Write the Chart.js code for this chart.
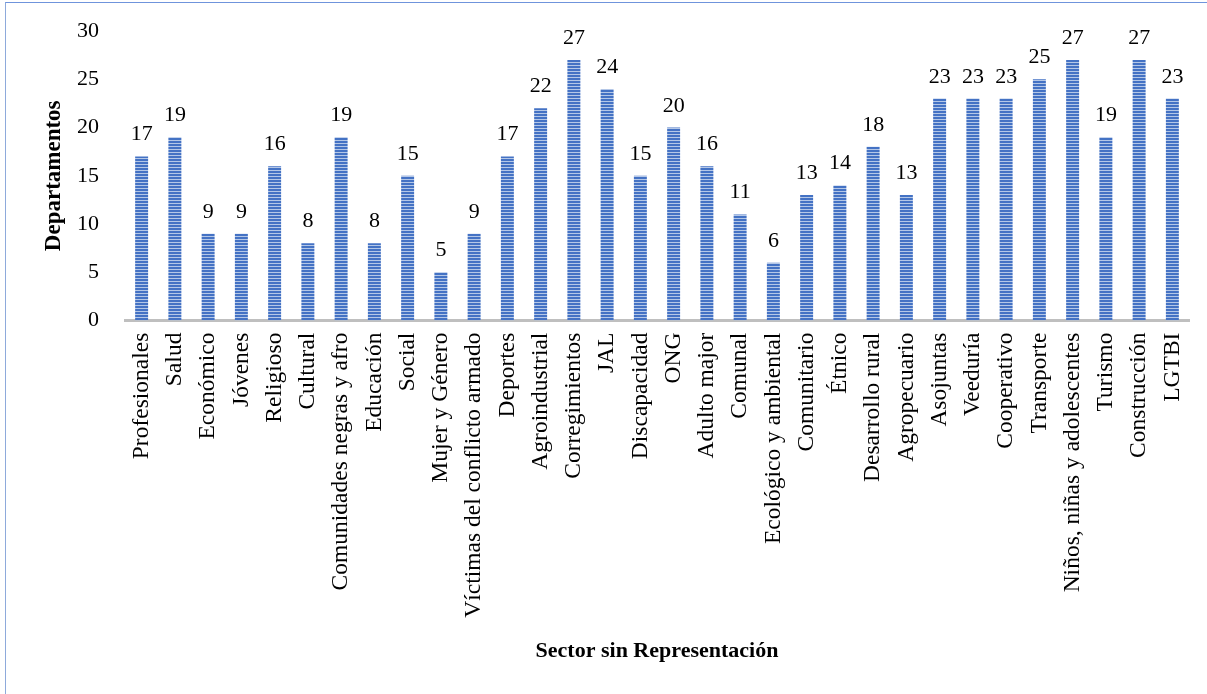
<!DOCTYPE html>
<html>
<head>
<meta charset="utf-8">
<script src="https://cdn.jsdelivr.net/npm/chart.js@4.4.0/dist/chart.umd.min.js"></script>
<style>
  html, body { margin: 0; padding: 0; background: #fff; }
  #wrap { position: relative; width: 1207px; height: 694px; }
  #frame { position: absolute; left: 5px; top: 2px; right: 0; bottom: 0;
           border-left: 1px solid #8eaadb; border-top: 1px solid #6f94dc; pointer-events: none; }
</style>
</head>
<body>
<div id="wrap">
  <canvas id="chart" width="1207" height="694"></canvas>
  <div id="frame"></div>
</div>
<script>
"use strict";

const categories = [
    'Profesionales', 'Salud', 'Económico', 'Jóvenes', 'Religioso', 'Cultural',
    'Comunidades negras y afro', 'Educación', 'Social', 'Mujer y Género',
    'Víctimas del conflicto armado', 'Deportes', 'Agroindustrial', 'Corregimientos',
    'JAL', 'Discapacidad', 'ONG', 'Adulto major', 'Comunal', 'Ecológico y ambiental',
    'Comunitario', 'Étnico', 'Desarrollo rural', 'Agropecuario', 'Asojuntas',
    'Veeduría', 'Cooperativo', 'Transporte', 'Niños, niñas y adolescentes',
    'Turismo', 'Construcción', 'LGTBI'
];
const departamentos = [17, 19, 9, 9, 16, 8, 19, 8, 15, 5, 9, 17, 22, 27, 24, 15, 20, 16, 11, 6,
                       13, 14, 18, 13, 23, 23, 23, 25, 27, 19, 27, 23];
const yTicks = [0, 5, 10, 15, 20, 25, 30];

const FONT = "'Liberation Serif', 'DejaVu Serif', serif";

// Rayado horizontal como en el original
function stripePattern() {
    const c = document.createElement('canvas');
    c.width = 4; c.height = 3;
    const g = c.getContext('2d');
    g.fillStyle = '#4472c4';
    g.fillRect(0, 0, 4, 3);
    g.fillStyle = '#b4c7e7';
    g.fillRect(0, 2, 4, 1);
    return g.createPattern(c, 'repeat');
}

// Etiquetas de valor encima de cada barra
const valueLabels = {
    id: 'valueLabels',
    afterDatasetsDraw(chart) {
        const ctx = chart.ctx;
        const meta = chart.getDatasetMeta(0);
        ctx.save();
        ctx.font = '22px ' + FONT;
        ctx.fillStyle = '#000';
        ctx.textAlign = 'center';
        ctx.textBaseline = 'alphabetic';
        meta.data.forEach((bar, i) => {
            ctx.fillText(String(departamentos[i]), bar.x, bar.y - 16);
        });
        ctx.restore();
    }
};

const ctx = document.getElementById('chart');
new Chart(ctx, {
    type: 'bar',
    data: {
        labels: categories,
        datasets: [{
            data: departamentos,
            backgroundColor: stripePattern(),
            borderWidth: 0,
            barPercentage: 0.39,
            categoryPercentage: 1.0
        }]
    },
    options: {
        responsive: false,
        animation: false,
        layout: { padding: { left: 40, right: 18, top: 31, bottom: 0 } },
        plugins: {
            legend: { display: false },
            tooltip: { enabled: false },
            // título del eje X como bloque aparte, centrado sobre el área del gráfico
            title: {
                display: true, position: 'bottom', fullSize: false,
                text: 'Sector sin Representación', color: '#000',
                font: { family: FONT, size: 22, weight: 'bold' }, padding: { top: 13, bottom: 29 }
            }
        },
        scales: {
            y: {
                min: 0, max: 30,
                afterBuildTicks: (axis) => { axis.ticks = yTicks.map(v => ({ value: v })); },
                afterFit: (axis) => { axis.width = 85; axis.paddingTop = 0; axis.paddingBottom = 0; },
                grid: { display: false, drawTicks: false },
                border: { display: false },
                ticks: { color: '#000', font: { family: FONT, size: 22 }, padding: 26 },
                title: {
                    display: true, text: 'Departamentos', color: '#000',
                    font: { family: FONT, size: 23, weight: 'bold' }, padding: { top: 0, bottom: 9 }
                }
            },
            x: {
                afterFit: (axis) => { axis.height = 305; axis.paddingLeft = 0; axis.paddingRight = 0; },
                grid: { display: false, drawTicks: false },
                border: { display: true, color: '#bfbfbf', width: 3 },
                ticks: {
                    color: '#000', font: { family: FONT, size: 23.5 },
                    maxRotation: 90, minRotation: 90, autoSkip: false, padding: 12
                }
            }
        }
    },
    plugins: [valueLabels]
});
</script>
</body>
</html>
